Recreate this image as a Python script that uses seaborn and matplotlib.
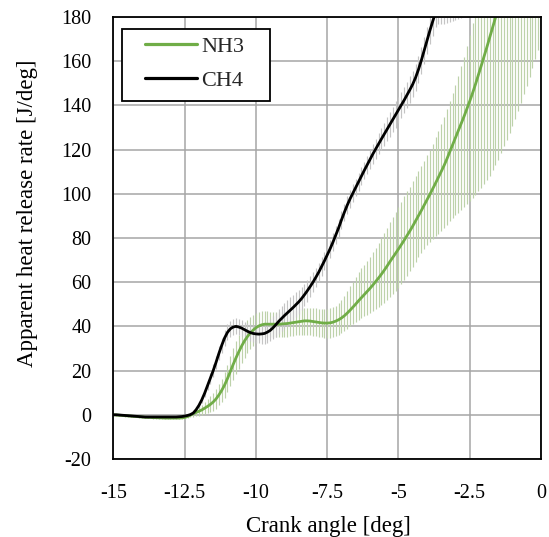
import numpy as np
import pandas as pd
import matplotlib
matplotlib.use("Agg")
import matplotlib.pyplot as plt
from matplotlib.lines import Line2D
from matplotlib.patches import Rectangle
import seaborn as sns

# crank-angle sampling (deg), 0.1 deg step
crank_angle = np.round(np.arange(-150, 1) / 10.0, 1)

nh3_mean = [
    0.0, -0.1, -0.2, -0.3, -0.4, -0.5, -0.6, -0.7, -0.8, -0.9,
    -1.0, -1.1, -1.2, -1.2, -1.3, -1.3, -1.4, -1.4, -1.5, -1.5,
    -1.5, -1.5, -1.5, -1.5, -1.4, -1.2, -0.8, -0.2, 0.5, 1.1,
    1.6, 2.2, 3.0, 3.8, 4.7, 5.8, 7.2, 9.0, 11.1, 13.5,
    16.4, 19.6, 22.8, 25.8, 28.6, 31.2, 33.5, 35.4, 37.0, 38.3,
    39.4, 40.2, 40.7, 41.0, 41.0, 41.0, 41.0, 41.0, 41.0, 41.1,
    41.2, 41.3, 41.5, 41.7, 41.9, 42.1, 42.3, 42.5, 42.5, 42.4,
    42.2, 42.0, 41.8, 41.6, 41.5, 41.5, 41.6, 41.9, 42.4, 43.0,
    43.8, 44.8, 46.0, 47.3, 48.7, 50.1, 51.6, 53.0, 54.4, 55.8,
    57.2, 58.7, 60.3, 61.9, 63.6, 65.4, 67.3, 69.3, 71.2, 73.1,
    75.0, 77.0, 79.0, 81.1, 83.2, 85.4, 87.7, 90.0, 92.4, 94.8,
    97.2, 99.7, 102.2, 104.8, 107.4, 110.1, 112.8, 115.8, 119.0, 122.2,
    125.3, 128.5, 131.7, 135.0, 138.4, 141.9, 145.6, 149.5, 153.6, 157.8,
    162.0, 166.3, 170.7, 175.1, 179.5, 184.0, 188.5, 193.0, 197.5, 202.0,
    206.5, 211.0, 215.5, 220.0, 224.5, 229.0, 233.5, 238.0, 242.5, 247.0,
    251.5,
]

nh3_err_hi = [
    0.4, 0.4, 0.4, 0.4, 0.4, 0.4, 0.4, 0.4, 0.4, 0.4,
    0.4, 0.4, 0.4, 0.4, 0.4, 0.4, 0.4, 0.4, 0.4, 0.4,
    0.4, 0.4, 0.5, 0.5, 0.6, 0.7, 0.8, 1.0, 1.3, 1.6,
    2.0, 2.4, 2.8, 3.2, 3.6, 4.0, 4.4, 4.8, 5.3, 5.8,
    6.3, 6.8, 7.2, 7.5, 7.7, 7.8, 7.8, 7.6, 7.3, 7.0,
    6.7, 6.4, 6.2, 6.0, 5.8, 5.7, 5.6, 5.5, 5.5, 5.5,
    5.5, 5.5, 5.5, 5.5, 5.5, 5.6, 5.7, 5.8, 5.9, 6.0,
    6.0, 6.1, 6.2, 6.3, 6.4, 6.5, 6.6, 6.8, 7.0, 7.5,
    8.0, 9.0, 10.0, 11.0, 11.6, 12.2, 12.8, 13.2, 13.6, 14.0,
    14.4, 14.8, 15.3, 15.8, 16.3, 16.8, 17.3, 17.8, 18.3, 18.8,
    19.2, 19.5, 19.8, 20.0, 20.1, 20.2, 20.2, 20.2, 20.2, 20.2,
    20.2, 20.3, 20.5, 20.8, 21.1, 21.5, 22.0, 22.5, 23.0, 23.5,
    24.0, 25.0, 26.0, 27.0, 28.5, 30.0, 31.5, 33.0, 34.5, 36.0,
    37.5, 39.0, 40.5, 42.0, 43.5, 45.0, 46.5, 48.0, 49.5, 51.0,
    52.5, 54.0, 55.5, 57.0, 58.5, 60.0, 61.5, 63.0, 64.5, 66.0,
    67.5,
]

nh3_err_lo = [
    0.4, 0.4, 0.4, 0.4, 0.4, 0.4, 0.4, 0.4, 0.4, 0.4,
    0.4, 0.4, 0.4, 0.4, 0.4, 0.4, 0.4, 0.4, 0.4, 0.4,
    0.4, 0.4, 0.5, 0.5, 0.6, 0.7, 0.8, 1.0, 1.3, 1.6,
    2.0, 2.4, 2.8, 3.2, 3.6, 4.0, 4.4, 4.8, 5.3, 5.8,
    6.3, 6.8, 7.2, 7.5, 7.7, 7.8, 7.8, 7.6, 7.3, 7.0,
    6.7, 6.4, 6.2, 6.0, 5.9, 5.9, 5.9, 5.9, 5.9, 6.0,
    6.0, 6.0, 6.0, 6.0, 6.0, 6.0, 6.1, 6.2, 6.3, 6.4,
    6.5, 6.5, 6.6, 6.6, 6.7, 6.7, 6.8, 6.8, 6.9, 7.0,
    7.0, 7.0, 7.1, 7.3, 7.6, 8.0, 8.5, 9.1, 9.8, 10.5,
    11.2, 11.9, 12.6, 13.3, 14.0, 14.7, 15.4, 16.0, 16.6, 17.1,
    17.5, 17.8, 18.0, 18.1, 18.2, 18.3, 18.4, 18.6, 19.0, 19.6,
    20.5, 21.5, 22.7, 24.0, 25.4, 26.8, 28.2, 29.8, 31.5, 33.2,
    35.0, 37.0, 39.0, 41.0, 43.0, 45.0, 47.5, 50.0, 52.5, 55.0,
    57.5, 60.0, 62.5, 64.5, 66.5, 68.5, 70.0, 71.5, 73.0, 74.5,
    76.0, 77.0, 78.0, 79.0, 79.5, 80.0, 80.5, 81.0, 81.5, 82.0,
    82.5,
]

ch4_mean = [
    0.0, 0.0, -0.1, -0.2, -0.3, -0.4, -0.5, -0.6, -0.7, -0.8,
    -0.9, -1.0, -1.0, -1.0, -1.0, -1.0, -1.0, -1.0, -1.0, -1.0,
    -1.0, -1.0, -1.0, -0.9, -0.8, -0.6, -0.3, 0.1, 0.8, 2.3,
    4.3, 6.8, 9.8, 13.2, 16.5, 20.0, 23.8, 27.8, 31.5, 34.8,
    37.3, 38.9, 39.7, 40.0, 39.7, 39.2, 38.5, 37.8, 37.2, 36.8,
    36.6, 36.5, 36.6, 36.8, 37.4, 38.2, 39.4, 40.8, 42.3, 43.6,
    44.9, 46.1, 47.3, 48.5, 49.8, 51.1, 52.6, 54.3, 56.1, 58.0,
    60.0, 62.2, 64.5, 67.0, 69.6, 72.3, 75.1, 78.1, 81.3, 84.6,
    88.2, 91.6, 94.8, 97.7, 100.3, 102.8, 105.4, 108.0, 110.6, 113.1,
    115.6, 118.0, 120.3, 122.6, 124.8, 127.0, 129.2, 131.4, 133.6, 135.8,
    138.0, 140.2, 142.4, 144.7, 147.1, 149.6, 152.6, 156.2, 160.3, 164.8,
    169.3, 173.8, 178.0, 182.0, 184.0, 185.0, 185.5, 186.0, 186.4, 186.8,
    187.2, 187.6, 188.0, 189.0, 191.5, 195.0, 199.0, 203.0, 207.0, 211.0,
    215.0, 219.0, 223.0, 227.0, 231.0, 235.0, 239.0, 243.0, 247.0, 251.0,
    255.0, 259.0, 263.0, 267.0, 271.0, 275.0, 279.0, 283.0, 287.0, 291.0,
    295.0,
]

ch4_err = [
    0.3, 0.3, 0.3, 0.3, 0.3, 0.3, 0.3, 0.3, 0.3, 0.3,
    0.3, 0.3, 0.3, 0.3, 0.3, 0.3, 0.3, 0.3, 0.3, 0.3,
    0.3, 0.3, 0.3, 0.3, 0.3, 0.4, 0.5, 0.6, 0.8, 1.0,
    1.3, 1.6, 1.9, 2.2, 2.5, 2.8, 3.0, 3.2, 3.4, 3.5,
    3.6, 3.6, 3.6, 3.6, 3.6, 3.6, 3.7, 3.8, 3.9, 4.0,
    4.1, 4.2, 4.4, 4.6, 4.8, 5.0, 5.2, 5.4, 5.6, 5.7,
    5.8, 5.8, 5.8, 5.7, 5.6, 5.5, 5.3, 5.1, 4.9, 4.7,
    4.5, 4.4, 4.3, 4.2, 4.1, 4.0, 4.0, 4.0, 4.0, 4.0,
    4.0, 4.0, 4.0, 4.0, 4.0, 4.0, 4.0, 4.0, 4.0, 4.0,
    4.2, 4.4, 4.6, 4.8, 5.0, 5.2, 5.4, 5.6, 5.8, 6.0,
    6.0, 6.0, 6.0, 6.0, 6.0, 6.0, 6.0, 6.0, 6.0, 6.0,
    6.0, 6.2, 6.4, 6.6, 7.0, 8.0, 8.5, 8.5, 8.5, 8.5,
    8.5, 8.5, 8.5, 8.5, 8.5, 8.5, 8.5, 8.5, 8.5, 8.5,
    8.5, 8.5, 8.5, 8.5, 8.5, 8.5, 8.5, 8.5, 8.5, 8.5,
    8.5, 8.5, 8.5, 8.5, 8.5, 8.5, 8.5, 8.5, 8.5, 8.5,
    8.5,
]

series_names = ["NH3", "CH4"]
line_colors = {"NH3": "#70ad47", "CH4": "#000000"}
bar_colors = {"NH3": "#bdd2aa", "CH4": "#c4c4c4"}
x_ticks = [-15, -12.5, -10, -7.5, -5, -2.5, 0]
x_tick_labels = ["-15", "-12.5", "-10", "-7.5", "-5", "-2.5", "0"]
y_ticks = [-20, 0, 20, 40, 60, 80, 100, 120, 140, 160, 180]
y_tick_labels = ["-20", "0", "20", "40", "60", "80", "100", "120", "140", "160", "180"]

sns.set_style("white")
plt.rcParams["font.family"] = ["Liberation Serif", "DejaVu Serif"]
plt.rcParams["axes.unicode_minus"] = False

df = pd.concat([
    pd.DataFrame({"angle": crank_angle, "hrr": nh3_mean, "fuel": "NH3"}),
    pd.DataFrame({"angle": crank_angle, "hrr": ch4_mean, "fuel": "CH4"}),
], ignore_index=True)

fig = plt.figure(figsize=(5.49, 5.37), dpi=100)
ax = fig.add_axes([0.2067, 0.1453, 0.7787, 0.8230])

# error bars (cycle variation)
nh3_arr = np.array(nh3_mean)
ch4_arr = np.array(ch4_mean)
ax.vlines(crank_angle, nh3_arr - np.array(nh3_err_lo), nh3_arr + np.array(nh3_err_hi),
          color=bar_colors["NH3"], linewidth=0.85, zorder=2)
ax.vlines(crank_angle, ch4_arr - np.array(ch4_err), ch4_arr + np.array(ch4_err),
          color=bar_colors["CH4"], linewidth=0.85, zorder=2)

sns.lineplot(data=df, x="angle", y="hrr", hue="fuel", hue_order=series_names,
             palette=line_colors, linewidth=2.0, ax=ax, zorder=3, legend=False)

ax.set_xlim(-15, 0)
ax.set_ylim(-20, 180)
ax.set_xticks(x_ticks)
ax.set_xticklabels(x_tick_labels)
ax.set_yticks(y_ticks)
ax.set_yticklabels(y_tick_labels)
ax.grid(True, color="#a6a6a6", linewidth=1.1, zorder=0)
ax.set_axisbelow(True)
for s in ax.spines.values():
    s.set_color("black")
    s.set_linewidth(1.3)
    s.set_zorder(5)
ax.tick_params(axis="both", length=0, labelsize=14.5, colors="black")
ax.tick_params(axis="x", pad=18)
ax.tick_params(axis="y", pad=16)

ax.set_xlabel("Crank angle [deg]", fontsize=16.5, color="black", va="top")
ax.xaxis.set_label_coords(0.503, -0.128)
ax.set_ylabel("Apparent heat release rate [J/deg]", fontsize=16.5, color="black", va="center")
ax.yaxis.set_label_coords(-0.202, 0.557)

# legend box drawn as a separate frame, legend entries inside it
ax.add_patch(Rectangle((0.0199, 0.810), 0.3461, 0.163, transform=ax.transAxes,
                       facecolor="white", edgecolor="black", linewidth=1.3,
                       zorder=6, clip_on=False))
handles = [Line2D([], [], color=line_colors[n], linewidth=2.3) for n in series_names]
leg = ax.legend(handles, series_names, loc="upper left", bbox_to_anchor=(0.0737, 0.957),
                borderaxespad=0, borderpad=0, fontsize=16, frameon=False,
                handlelength=2.34, handletextpad=0.2, labelspacing=0.62)
leg.set_zorder(7)

fig.savefig("out.png", dpi=100, facecolor="white")
